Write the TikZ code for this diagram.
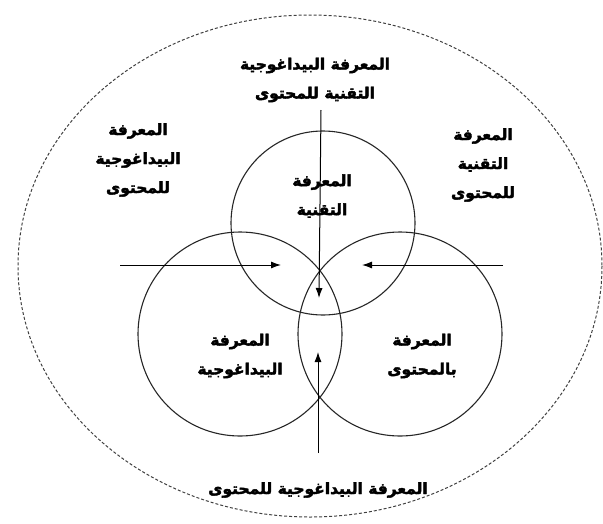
\documentclass[tikz,border=0pt]{standalone}
\usepackage{fontspec}
\newfontfamily\arabicfont[Script=Arabic,FakeBold=2.5]{DejaVu Sans}
\TeXXeTstate=1
\usetikzlibrary{positioning,arrows.meta}
\newcommand{\artxt}[1]{\beginR #1\endR}

\begin{document}
\begin{tikzpicture}[x=1pt,y=-1pt,>={Latex[length=10pt,width=7pt]},
  lbl/.style={align=center,inner sep=0pt,font=\arabicfont\bfseries\fontsize{15.5}{29}\selectfont},
  ring/.style={draw=black!85,line width=1.1pt,circle,inner sep=0pt}]
\useasboundingbox (0,0) rectangle (603,523);
\draw[black!75,line width=1pt,dash pattern=on 3pt off 2pt] (310,266) ellipse [x radius=292,y radius=251];

\node[ring,minimum size=184pt] (tech) at (323,223) {};
\node[ring,minimum size=204pt] (ped) at (240,334) {};
\node[ring,minimum size=204pt] (cont) at (400,334) {};

\node[lbl] (techlbl) at (322,196) {\artxt{المعرفة}\\\artxt{التقنية}};
\node[lbl] (pedlbl) at (240,356) {\artxt{المعرفة}\\\artxt{البيداغوجية}};
\node[lbl] (contlbl) at (422,356) {\artxt{المعرفة}\\\artxt{بالمحتوى}};

\node[lbl] (toplbl) at (315,80) {\artxt{المعرفة البيداغوجية}\\\artxt{التقنية للمحتوى}};
\node[lbl] (leftlbl) at (138,160) {\artxt{المعرفة}\\\artxt{البيداغوجية}\\\artxt{للمحتوى}};
\node[lbl] (rightlbl) at (483,165) {\artxt{المعرفة}\\\artxt{التقنية}\\\artxt{للمحتوى}};
\node[lbl] (botlbl) at (318,490) {\artxt{المعرفة البيداغوجية للمحتوى}};

\coordinate (ttail) at (321,110);
\coordinate (ttip) at (319,298);
\coordinate (ltail) at (120,265);
\coordinate (ltip) at (281,265);
\coordinate (rtail) at (503,265);
\coordinate (rtip) at (362,265);
\coordinate (btail) at (318,453);
\coordinate (btip) at (318,352);

\draw[->,line width=1pt] (ttail) -- (ttip);
\draw[->,line width=1pt] (ltail) -- (ltip);
\draw[->,line width=1pt] (rtail) -- (rtip);
\draw[->,line width=1pt] (btail) -- (btip);
\end{tikzpicture}
\end{document}
